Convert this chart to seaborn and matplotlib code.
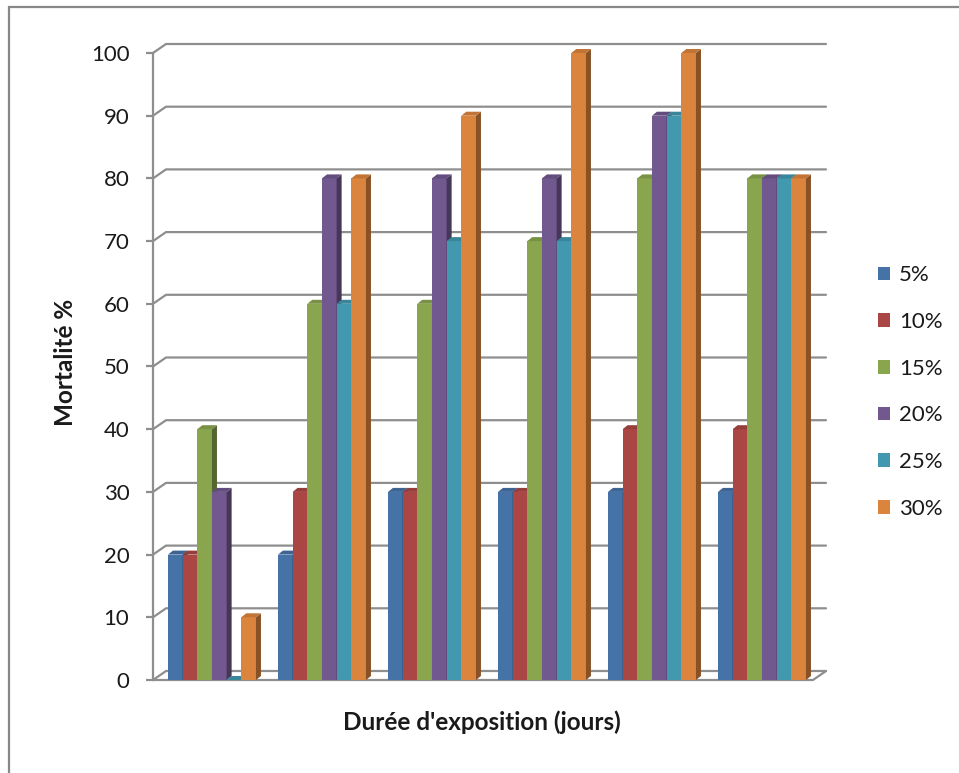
import numpy as np
import pandas as pd
import matplotlib
matplotlib.use("Agg")
import matplotlib.pyplot as plt
import matplotlib.colors as mcolors
from matplotlib.patches import Polygon, Rectangle
from matplotlib.lines import Line2D
import seaborn as sns

# ---- data -------------------------------------------------------------
days = ["J1", "J2", "J3", "J4", "J5", "J6"]          # exposure duration groups
concentrations = ["5%", "10%", "15%", "20%", "25%", "30%"]
mort_5 = [20, 20, 30, 30, 30, 30]
mort_10 = [20, 30, 30, 30, 40, 40]
mort_15 = [40, 60, 60, 70, 80, 80]
mort_20 = [30, 80, 80, 80, 90, 80]
mort_25 = [0, 60, 70, 70, 90, 80]
mort_30 = [10, 80, 90, 100, 100, 80]
y_ticks = [0, 10, 20, 30, 40, 50, 60, 70, 80, 90, 100]

series = [mort_5, mort_10, mort_15, mort_20, mort_25, mort_30]
colors = ["#4572A7", "#AA4643", "#89A54E", "#71588F", "#4198AF", "#DB843D"]

df = pd.DataFrame(
    [(d, c, vals[i]) for c, vals in zip(concentrations, series) for i, d in enumerate(days)],
    columns=["jour", "conc", "mortalite"],
)

# ---- figure -----------------------------------------------------------
sns.set_theme(style="white")
plt.rcParams["font.family"] = ["Lato", "DejaVu Sans"]

W, H = 959, 773
fig = plt.figure(figsize=(W / 100, H / 100), dpi=100)
fig.patch.set_facecolor("white")

# plot area (front plane)
x_left, x_right, y_bottom, y_top = 153, 813, 680, 53
ax = fig.add_axes([x_left / W, (H - y_bottom) / H,
                   (x_right - x_left) / W, (y_bottom - y_top) / H])

sns.barplot(data=df, x="jour", y="mortalite", hue="conc", hue_order=concentrations,
            palette=colors, saturation=1, width=0.8, linewidth=0, edgecolor="none",
            ax=ax, zorder=3)

xlo, xhi = -0.536, 5.464
ax.set_xlim(xlo, xhi)
ax.set_ylim(0, 100)
ax.set_yticks(y_ticks)
ax.set_xticks([])
ax.patch.set_alpha(0)

px_x = ax.bbox.width / (xhi - xlo)
px_y = ax.bbox.height / 100.0

grid_col = "#8E8E8E"

# back wall gridlines with their slanted foot on the side wall
wall_dx, wall_dy = 13 / px_x, 9 / px_y
for v in y_ticks:
    ax.add_line(Line2D([xlo, xlo + wall_dx, xhi + wall_dx], [v, v + wall_dy, v + wall_dy],
                       color=grid_col, lw=1.6, zorder=1, clip_on=False))
# floor outline
ax.add_line(Line2D([xlo, xhi, xhi + wall_dx], [0, 0, wall_dy],
                   color=grid_col, lw=1.6, zorder=1, clip_on=False))

# 3-D depth for each bar: darker right side, shaded top
depth_dx, depth_dy = 5 / px_x, 4 / px_y
for h, cont in enumerate(ax.containers):
    base = np.array(mcolors.to_rgb(colors[h]))
    side_c = base * 0.62
    top_c = base * 0.88
    for i, bar in enumerate(cont.patches):
        z = 3 + (i * 6 + h) * 0.01
        bar.set_zorder(z)
        x0 = bar.get_x()
        x1 = x0 + bar.get_width()
        top = bar.get_height()
        side = Polygon([(x1, 0), (x1 + depth_dx, depth_dy), (x1 + depth_dx, top + depth_dy), (x1, top)],
                       closed=True, facecolor=side_c, edgecolor="none", zorder=z + 0.001, clip_on=False)
        lid = Polygon([(x0, top), (x0 + depth_dx, top + depth_dy), (x1 + depth_dx, top + depth_dy), (x1, top)],
                      closed=True, facecolor=top_c, edgecolor="none", zorder=z + 0.002, clip_on=False)
        ax.add_patch(side)
        ax.add_patch(lid)

# axes styling
for s in ["top", "right", "bottom"]:
    ax.spines[s].set_visible(False)
ax.spines["left"].set_color(grid_col)
ax.spines["left"].set_linewidth(1.6)
ax.spines["left"].set_zorder(1)
ax.tick_params(axis="y", direction="out", length=5, width=1.6, color=grid_col,
               pad=12, labelsize=16, labelcolor="#1a1a1a", left=True)

ax.set_ylabel("Mortalité %", fontsize=17.5, fontweight="bold", color="#1a1a1a")
ax.yaxis.label.set_va("center")
ax.yaxis.set_label_coords((66 - x_left) / (x_right - x_left), (y_bottom - 362) / (y_bottom - y_top))
ax.set_xlabel("Durée d'exposition (jours)", fontsize=17.5, fontweight="bold", color="#1a1a1a")
ax.xaxis.label.set_va("center")
ax.xaxis.set_label_coords((482 - x_left) / (x_right - x_left), (y_bottom - 722) / (y_bottom - y_top))

# legend
handles, labels = ax.get_legend_handles_labels()
ax.legend(handles, labels, loc="center left", bbox_to_anchor=(878 / W, 1 - 392 / H),
          bbox_transform=fig.transFigure, frameon=False, fontsize=16,
          handlelength=0.55, handleheight=0.55, handletextpad=0.4, labelspacing=1.2,
          borderpad=0, borderaxespad=0, labelcolor="#1a1a1a")

# outer chart border
fig.add_artist(Rectangle((8.5 / W, -0.05), 1.2, 1 - 6.5 / H + 0.05, transform=fig.transFigure,
                         fill=False, edgecolor="#888888", lw=1.6))

fig.savefig("out.png", dpi=100, facecolor="white")
